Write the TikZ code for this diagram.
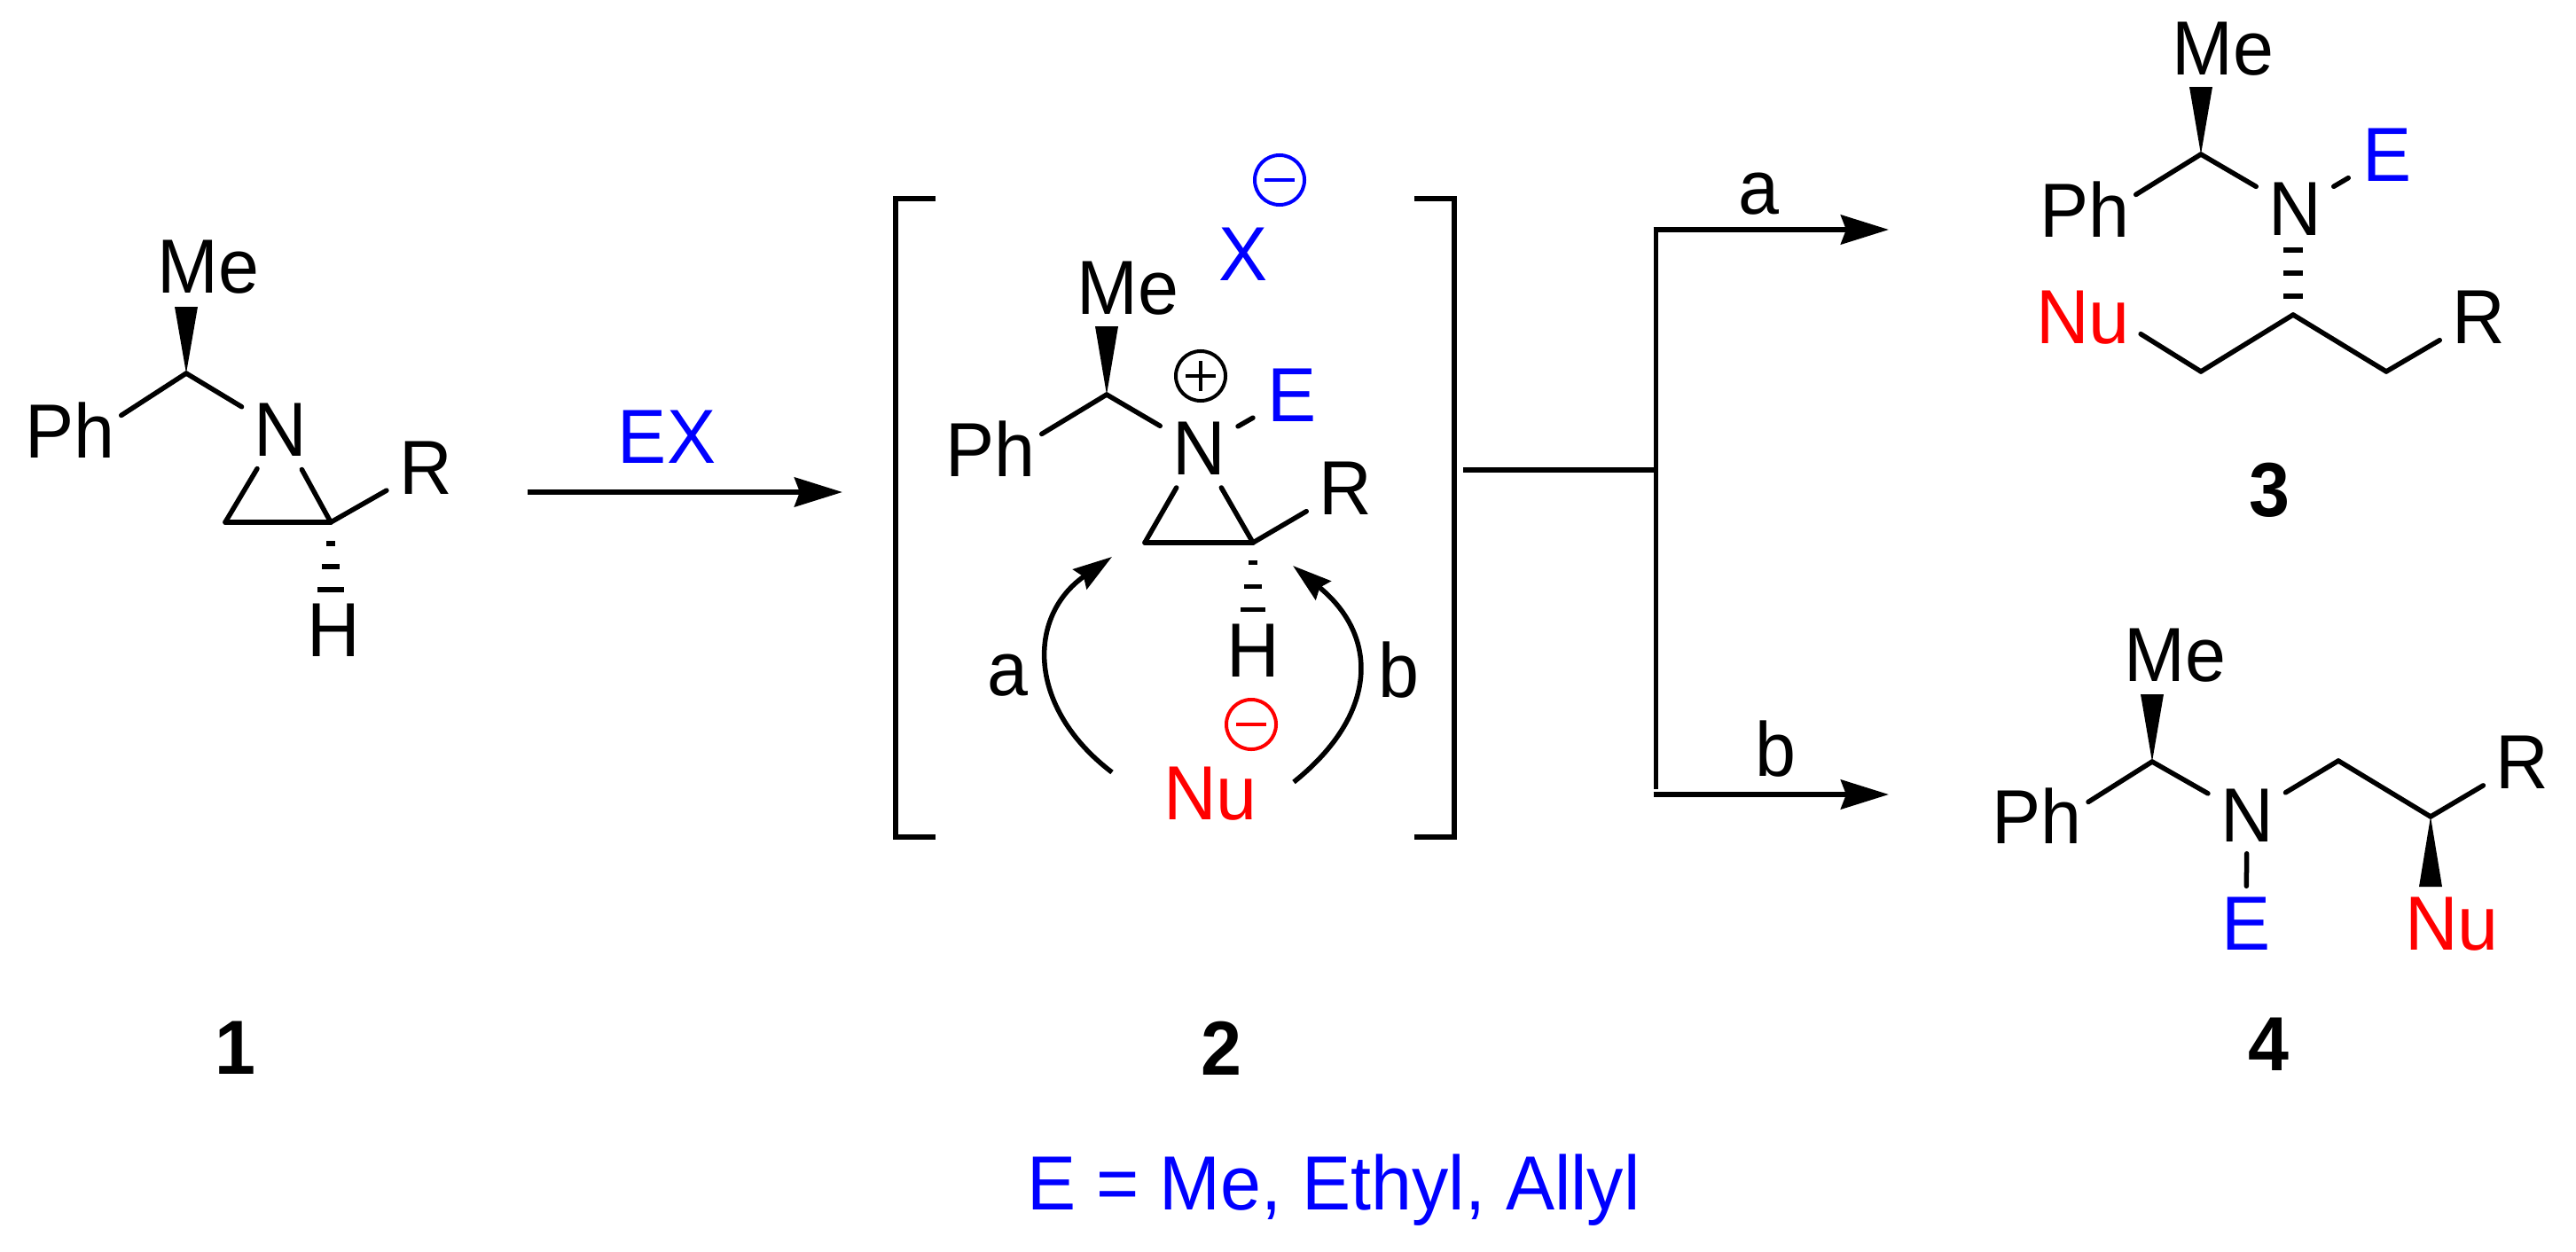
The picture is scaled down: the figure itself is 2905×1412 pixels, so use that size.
\documentclass[tikz,border=0pt]{standalone}
\usepackage{fontspec}
\setmainfont[FakeStretch=0.955]{Liberation Sans}
\usetikzlibrary{arrows.meta,calc}

\newcommand{\wedgebond}[2]{\fill (#1) -- ($(#2)+(-13,0)$) -- ($(#2)+(13,0)$) -- cycle;}

\tikzset{
  atom/.style={circle,inner sep=0pt,minimum size=1cm,font=\fontsize{24.6}{30}\selectfont},
  tag/.style={inner sep=0pt,font=\fontsize{24.6}{30}\selectfont},
  numtag/.style={inner sep=0pt,font=\fontsize{24.6}{30}\selectfont\bfseries},
  bond/.style={draw,line width=.055cm,line cap=round,line join=round},
  hashbar/.style={line width=.065cm},
  rxnline/.style={draw,line width=.06cm},
  rxnarrow/.style={rxnline,-{Stealth[length=.54cm,width=.33cm,inset=.06cm]}},
  curlyarrow/.style={draw,line width=.055cm,-{Stealth[length=.44cm,width=.27cm,inset=.05cm]}},
  ring/.style={circle,draw,inner sep=0pt,minimum size=.56cm,line width=.04cm},
  minusring/.style={ring,
    path picture={\draw[line width=.04cm] ([xshift=-.17cm]path picture bounding box.center) -- ([xshift=.17cm]path picture bounding box.center);}},
  plusring/.style={ring,
    path picture={\draw[line width=.04cm] ([yshift=-.17cm]path picture bounding box.center) -- ([yshift=.17cm]path picture bounding box.center)
      ([xshift=-.17cm]path picture bounding box.center) -- ([xshift=.17cm]path picture bounding box.center);}},
}

\begin{document}
\begin{tikzpicture}[x=.01cm,y=-.01cm]
      \useasboundingbox (0,0) rectangle (2905,1412);

      % aziridine 1
      \begin{scope}[every node/.style={atom}]
        \node (me1) at (235,301) {Me};
        \node (ph1) at (79,485)  {Ph};
        \node (n1)  at (316,485) {N};
        \node (r1)  at (480,528) {R};
        \node (h1)  at (376,711) {H};
      \end{scope}
      \coordinate (c1)  at (210,421);
      \coordinate (w1)  at (210,346);
      \coordinate (a1)  at (254,589);
      \coordinate (b1)  at (373,589);

      \begin{scope}[every edge/.style={bond}]
        \path (c1) edge (ph1.16);
        \path (c1) edge (n1);
        \path (n1) edge (a1);
        \path (n1) edge (b1);
        \path (a1) edge (b1);
        \path (b1) edge (r1);
      \end{scope}
      \wedgebond{c1}{w1}
      \foreach \y/\w in {613/5,639/10,665/15}
        \draw[hashbar] (373-\w,\y) -- (373+\w,\y);

      % first step
      \coordinate (sa) at (595,555);
      \coordinate (ta) at (950,555);
      \draw[rxnarrow] (sa) -- (ta);
      \node[tag,blue] (ex) at (752,493) {EX};

      % ion pair 2
      \begin{scope}[every node/.style={atom}]
        \node (me2) at (1272,325) {Me};
        \node (ph2) at (1117,506) {Ph};
        \node (n2)  at (1352,506) {N};
        \node[blue] (e2) at (1457,446) {E};
        \node (r2)  at (1517,551) {R};
        \node (h2)  at (1413,734) {H};
      \end{scope}
      \node[tag,blue] (x2)  at (1402,287) {X};
      \node[tag,red]  (nu2) at (1365,895) {Nu};
      \node[tag] (la2) at (1136,762) {a};
      \node[tag] (lb2) at (1577,756) {b};
      \node[minusring,blue] (xm) at (1443,203) {};
      \node[plusring]       (np) at (1354,424) {};
      \node[minusring,red]  (nm) at (1411,817) {};
      \coordinate (c2)  at (1248,445);
      \coordinate (w2)  at (1248,368);
      \coordinate (a2)  at (1291,612);
      \coordinate (b2)  at (1413,612);

      \begin{scope}[every edge/.style={bond}]
        \path (c2) edge (ph2.16);
        \path (c2) edge (n2);
        \path (n2) edge (e2);
        \path (n2) edge (a2);
        \path (n2) edge (b2);
        \path (a2) edge (b2);
        \path (b2) edge (r2);
      \end{scope}
      \wedgebond{c2}{w2}
      \foreach \y/\w in {634/5,661/10,687/14}
        \draw[hashbar,line width=.05cm] (1413-\w,\y) -- (1413+\w,\y);

      \coordinate (sl) at (1254,871);
      \coordinate (tl) at (1254,628);
      \coordinate (sr) at (1459,882);
      \coordinate (tr) at (1458,638);
      \draw[curlyarrow] (sl) .. controls (1158,798) and (1158,695) .. (tl);
      \draw[curlyarrow] (sr) .. controls (1555,805) and (1555,717) .. (tr);

      % brackets
      \draw[rxnline,line width=.055cm] (1055,224) -- (1010,224) -- (1010,944) -- (1055,944);
      \draw[rxnline,line width=.055cm] (1595,224) -- (1640,224) -- (1640,944) -- (1595,944);

      % fork to a and b
      \coordinate (st)   at (1650,530);
      \coordinate (fork) at (1867,530);
      \coordinate (up)   at (1867,259);
      \coordinate (down) at (1867,890);
      \coordinate (lo)   at (1867,896);
      \coordinate (ua)   at (2130,259);
      \coordinate (ub)   at (2130,896);
      \draw[rxnline] (st) -- (fork);
      \draw[rxnline,line width=.05cm] (up) -- (down);
      \draw[rxnarrow] ([xshift=-.025cm]up) -- (ua);
      \draw[rxnarrow] ([xshift=-.025cm]lo) -- (ub);
      \node[tag] (la) at (1983,219) {a};
      \node[tag] (lb) at (2002,845) {b};

      % product 3
      \begin{scope}[every node/.style={atom}]
        \node (me3) at (2507,55)  {Me};
        \node (ph3) at (2351,236) {Ph};
        \node (n3)  at (2588,236) {N};
        \node[blue] (e3) at (2692,175) {E};
        \node[red,minimum size=1.34cm] (nu3) at (2349,358) {Nu};
        \node (r3)  at (2795,358) {R};
      \end{scope}
      \coordinate (c3)  at (2482,174);
      \coordinate (w3)  at (2482,98);
      \coordinate (d3)  at (2482,419);
      \coordinate (f3)  at (2586,355);
      \coordinate (g3)  at (2691,419);

      \begin{scope}[every edge/.style={bond}]
        \path (c3) edge (ph3.16);
        \path (c3) edge (n3);
        \path (n3) edge (e3);
        \path (d3) edge (nu3.-16);
        \path (d3) edge (f3);
        \path (f3) edge (g3);
        \path (g3) edge (r3);
      \end{scope}
      \wedgebond{c3}{w3}
      \foreach \y in {282,308,334}
        \draw[hashbar] (2575,\y) -- (2597,\y);
      \node[numtag] (l3) at (2559,553) {3};

      % product 4
      \begin{scope}[every node/.style={atom}]
        \node (me4) at (2453,739) {Me};
        \node (ph4) at (2297,920) {Ph};
        \node (n4)  at (2534,920) {N};
        \node (r4)  at (2844,860) {R};
        \node[blue] (e4) at (2533,1042) {E};
      \end{scope}
      \node[tag,red] (nu4) at (2765,1042) {Nu};
      \coordinate (c4)  at (2427,859);
      \coordinate (w4)  at (2427,783);
      \coordinate (d4)  at (2637,858);
      \coordinate (f4)  at (2741,921);
      \coordinate (v4)  at (2741,1000);

      \begin{scope}[every edge/.style={bond}]
        \path (c4) edge (ph4.15);
        \path (c4) edge (n4);
        \path (n4) edge (d4);
        \path (d4) edge (f4);
        \path (f4) edge (r4);
        \path (n4) edge[shorten <=-.08cm,shorten >=-.08cm] (e4);
      \end{scope}
      \wedgebond{c4}{w4}
      \wedgebond{f4}{v4}
      \node[numtag] (l4) at (2558,1178) {4};

      % compound numbers and footnote
      \node[numtag] (l1) at (265,1182)  {1};
      \node[numtag] (l2) at (1377,1182) {2};
      \node[tag,blue] (note) at (1504,1342) {E = Me, Ethyl, Allyl};
\end{tikzpicture}
\end{document}
